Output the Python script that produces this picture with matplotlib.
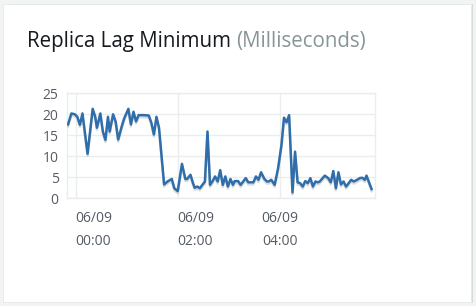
import matplotlib
matplotlib.use("Agg")
import matplotlib.pyplot as plt
import matplotlib.patheffects as pe
from matplotlib.patches import Rectangle

# Minutes relative to 06/09 00:00
minutes = [-9, -5, -1, 2, 5, 8, 14, 20, 23, 25, 29, 32, 35, 38, 40, 44, 47, 50, 54, 57,
           62, 65, 68, 71, 74, 80, 86, 89, 92, 95, 98, 104, 108, 113, 116, 120, 125, 129,
           131, 135, 138, 140, 143, 146, 149, 152, 155, 158, 161, 164, 167, 170, 173, 176,
           179, 182, 185, 187, 191, 194, 200, 203, 209, 212, 215, 218, 222, 225, 227, 230,
           234, 238, 242, 245, 248, 251, 255, 258, 261, 264, 267, 270, 273, 276, 279, 282,
           285, 287, 293, 297, 300, 303, 306, 309, 312, 315, 318, 321, 324, 327, 331, 334,
           337, 340, 342, 345, 348]
values = [17.6, 20.2, 20.0, 19.4, 17.5, 20.2, 10.6, 21.3, 19.4, 16.8, 20.2, 15.9, 13.9, 19.4,
          15.9, 20.0, 18.3, 14.0, 17.0, 19.0, 21.3, 17.6, 20.6, 18.3, 19.8, 19.8, 19.7, 18.0,
          15.2, 19.4, 16.8, 3.3, 4.0, 4.6, 2.4, 1.7, 8.2, 4.6, 4.6, 5.6, 3.6, 2.5, 2.8, 2.4,
          3.2, 4.0, 15.9, 3.2, 4.1, 5.2, 4.0, 6.7, 3.2, 5.2, 2.8, 4.6, 3.2, 4.1, 4.1, 3.2,
          4.8, 3.8, 3.8, 5.2, 4.4, 6.2, 4.6, 4.0, 4.0, 4.4, 3.2, 7.1, 12.7, 19.2, 18.1, 19.8,
          1.4, 11.1, 3.8, 3.6, 2.8, 4.1, 3.6, 4.8, 2.8, 4.0, 3.8, 4.0, 5.4, 4.8, 3.8, 6.5,
          2.4, 6.2, 3.3, 4.0, 2.8, 3.6, 4.4, 4.0, 4.4, 4.8, 4.9, 4.4, 5.4, 3.8, 2.2]

x_ticks = [0, 120, 240]
x_tick_labels = ["06/09\n00:00", "06/09\n02:00", "06/09\n04:00"]
y_ticks = [0, 5, 10, 15, 20, 25]

plt.rcParams['font.family'] = ['Open Sans', 'DejaVu Sans']

W, H = 477, 306
fig = plt.figure(figsize=(W / 100, H / 100), dpi=100)
fig.patch.set_facecolor("#f2f3f3")

# card
fig.patches.append(Rectangle((4 / W, 1 - 303 / H), 469 / W, 299 / H, transform=fig.transFigure,
                             facecolor="#d5dbdb", edgecolor="none", zorder=-2))
fig.patches.append(Rectangle((3 / W, 1 - 301.5 / H), 468.5 / W, 298 / H, transform=fig.transFigure,
                             facecolor="white", edgecolor="#e6e9e9", linewidth=0.6, zorder=-1))

title_fs = 14.8
first = fig.text(27 / W, 1 - 47 / H, "Replica Lag Minimum", fontsize=title_fs, color="#16191f",
                 ha="left", va="baseline")
fig.canvas.draw()
r = fig.canvas.get_renderer()
bb = first.get_window_extent(r)
fig.text((bb.x1 + 5) / W, 1 - 47 / H, "(Milliseconds)", fontsize=title_fs, color="#879596",
         ha="left", va="baseline")

ax = fig.add_axes([67 / W, 1 - 198.3 / H, 308 / W, 105 / H])
ax.set_zorder(2)
ax.set_facecolor("white")
ax.plot(minutes, values, color="#2f6eaa", linewidth=1.8, solid_joinstyle="round",
        path_effects=[pe.SimpleLineShadow(offset=(0, -1.5), shadow_color="#9a9a9a", alpha=0.35),
                      pe.Normal()], zorder=3)
ax.set_xlim(-10.2, 352)
ax.set_ylim(0, 25)
ax.set_yticks(y_ticks)
ax.set_xticks(x_ticks)
ax.set_xticklabels(x_tick_labels, linespacing=1.75)
ax.grid(True, color="#eaeded", linewidth=1.0)
ax.set_axisbelow(True)
for s in ax.spines.values():
    s.set_color("#eaeded")
    s.set_linewidth(1.0)
ax.tick_params(axis="both", length=0, colors="#545b64")
ax.tick_params(axis="y", labelsize=10, pad=6)
ax.tick_params(axis="x", labelsize=10, pad=9)
labels = ax.get_xticklabels()
labels[0].set_ha("left")
labels[1].set_ha("left")
labels[2].set_ha("center")

fig.savefig("out.png", dpi=100, facecolor=fig.get_facecolor())
